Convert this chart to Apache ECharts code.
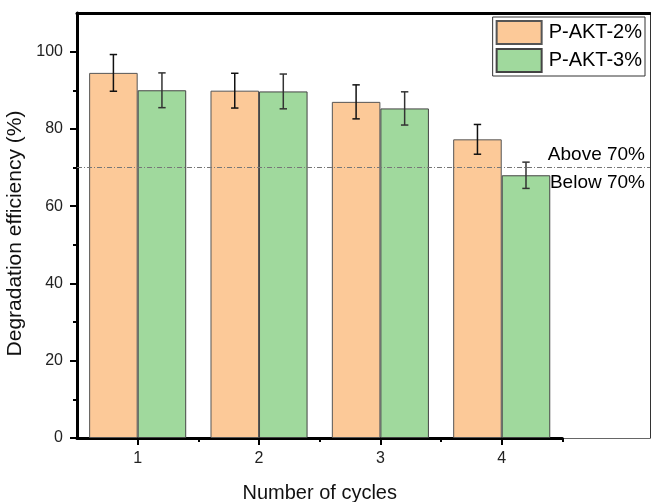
<!DOCTYPE html>
<html>
<head>
<meta charset="utf-8">
<script src="https://cdn.jsdelivr.net/npm/echarts@6/dist/echarts.min.js"></script>
<style>html,body{margin:0;padding:0;background:#fff}#c{width:651px;height:502px}</style>
</head>
<body>
<div id="c"></div>
<script>
// ---- data ----
var cycles = [1, 2, 3, 4];
var akt2 = [94.5, 89.9, 87.0, 77.3];
var akt2Err = [4.75, 4.5, 4.4, 3.85];
var akt3 = [90.0, 89.7, 85.3, 68.0];
var akt3Err = [4.5, 4.5, 4.3, 3.4];
var seriesNames = ['P-AKT-2%', 'P-AKT-3%'];
var xTicks = [1, 2, 3, 4];
var xMinorTicks = [1.5, 2.5, 3.5, 4.5];
var yTicks = [0, 20, 40, 60, 80, 100];
var yMinorTicks = [10, 30, 50, 70, 90];
var threshold = 70;
var thresholdLabels = ['Above 70%', 'Below 70%'];

var FONT = 'Liberation Sans';
var chart = echarts.init(document.getElementById('c'));

function pairs(xs, ys) { return xs.map(function (x, i) { return [x, ys[i]]; }); }
function errData(xs, ys, es) { return xs.map(function (x, i) { return [x, ys[i], es[i]]; }); }

function errRender(offset, color) {
  return function (params, api) {
    var x = api.value(0) + offset, v = api.value(1), e = api.value(2);
    var top = api.coord([x, v + e]);
    var bot = api.coord([x, v - e]);
    var hw = 3.7;
    var st = { stroke: color, lineWidth: 1.5 };
    return {
      type: 'group',
      children: [
        { type: 'line', shape: { x1: top[0], y1: top[1], x2: bot[0], y2: bot[1] }, style: st },
        { type: 'line', shape: { x1: top[0] - hw, y1: top[1], x2: top[0] + hw, y2: top[1] }, style: st },
        { type: 'line', shape: { x1: bot[0] - hw, y1: bot[1], x2: bot[0] + hw, y2: bot[1] }, style: st }
      ]
    };
  };
}

var option = {
  animation: false,
  backgroundColor: '#fff',
  textStyle: { fontFamily: FONT },
  legend: {
    orient: 'vertical', right: 6, top: 17, icon: 'rect',
    padding: [3, 3, 3, 3], itemGap: 3, itemWidth: 45, itemHeight: 23,
    backgroundColor: '#fff', borderColor: '#333', borderWidth: 1,
    textStyle: { fontSize: 20, color: '#000', fontFamily: FONT, padding: [0, 0, 0, 2] },
    data: seriesNames
  },
  grid: [
    { left: 77, right: 1, top: 13, bottom: 64, outerBoundsMode: 'none', containLabel: false },
    { left: 77, right: 88.6, top: 13, bottom: 64, outerBoundsMode: 'none', containLabel: false }
  ],
  xAxis: [
    { gridIndex: 0, type: 'value', position: 'bottom', min: 0.5, max: 5.22,
      axisLine: { show: true, lineStyle: { color: '#666', width: 1 } },
      axisTick: { show: false }, axisLabel: { show: false }, splitLine: { show: false } },
    { gridIndex: 0, type: 'value', position: 'top', min: 0.5, max: 5.22,
      axisLine: { show: true, lineStyle: { color: '#000', width: 3 } },
      axisTick: { show: false }, axisLabel: { show: false }, splitLine: { show: false } },
    { gridIndex: 1, type: 'value', position: 'bottom', min: 0.5, max: 4.5,
      axisLine: { show: true, onZero: false, lineStyle: { color: '#000', width: 3 } },
      axisTick: { show: true, customValues: xTicks, length: 7, lineStyle: { color: '#000', width: 2 } },
      axisLabel: { show: true, customValues: xTicks, fontSize: 16, color: '#222', margin: 13, fontFamily: FONT },
      splitLine: { show: false },
      name: 'Number of cycles', nameLocation: 'middle', nameGap: 45,
      nameTextStyle: { fontSize: 20, color: '#111', fontFamily: FONT } },
    { gridIndex: 1, type: 'value', position: 'bottom', min: 0.5, max: 4.5,
      axisLine: { show: false },
      axisTick: { show: true, customValues: xMinorTicks, length: 4, lineStyle: { color: '#000', width: 2 } },
      axisLabel: { show: false }, splitLine: { show: false } }
  ],
  yAxis: [
    { gridIndex: 0, type: 'value', position: 'right', min: 0, max: 110,
      axisLine: { show: true, lineStyle: { color: '#333', width: 1 } },
      axisTick: { show: false }, axisLabel: { show: false }, splitLine: { show: false } },
    { gridIndex: 1, type: 'value', position: 'left', min: 0, max: 110,
      axisLine: { show: true, onZero: false, lineStyle: { color: '#000', width: 3 } },
      axisTick: { show: true, customValues: yTicks, length: 7, lineStyle: { color: '#000', width: 2 } },
      axisLabel: { show: true, customValues: yTicks, fontSize: 16, color: '#222', margin: 14, fontFamily: FONT },
      splitLine: { show: false },
      name: 'Degradation efficiency (%)', nameLocation: 'middle', nameGap: 44,
      nameTextStyle: { fontSize: 21, color: '#111', fontFamily: FONT, padding: [0, 16, 0, 0] } },
    { gridIndex: 1, type: 'value', position: 'left', min: 0, max: 110,
      axisLine: { show: false },
      axisTick: { show: true, customValues: yMinorTicks, length: 4, lineStyle: { color: '#000', width: 2 } },
      axisLabel: { show: false }, splitLine: { show: false } }
  ],
  series: [
    { name: seriesNames[0], type: 'bar', xAxisIndex: 2, yAxisIndex: 1,
      barWidth: '40%', barGap: '0%', data: pairs(cycles, akt2),
      itemStyle: { color: '#FCC998', borderColor: '#555', borderWidth: 1 } },
    { name: seriesNames[1], type: 'bar', xAxisIndex: 2, yAxisIndex: 1,
      barWidth: '40%', barGap: '0%', data: pairs(cycles, akt3),
      itemStyle: { color: '#A0D99D', borderColor: '#444', borderWidth: 1 } },
    { type: 'custom', xAxisIndex: 2, yAxisIndex: 1, z: 5,
      renderItem: errRender(-0.2, '#111'), data: errData(cycles, akt2, akt2Err) },
    { type: 'custom', xAxisIndex: 2, yAxisIndex: 1, z: 5,
      renderItem: errRender(0.2, '#333'), data: errData(cycles, akt3, akt3Err) },
    { type: 'line', xAxisIndex: 0, yAxisIndex: 0, data: [], silent: true,
      markLine: {
        symbol: 'none', silent: true,
        lineStyle: { color: '#777', width: 1, type: [5, 2, 1, 2] },
        data: [
          { yAxis: threshold, label: { show: true, position: 'insideEndTop', formatter: thresholdLabels[0],
              fontSize: 19, color: '#000', fontFamily: FONT, distance: [5, 3] } },
          { yAxis: threshold, label: { show: true, position: 'insideEndBottom', formatter: thresholdLabels[1],
              fontSize: 19, color: '#000', fontFamily: FONT, distance: [5, 6] } }
        ]
      } }
  ]
};
chart.setOption(option);
</script>
</body>
</html>
